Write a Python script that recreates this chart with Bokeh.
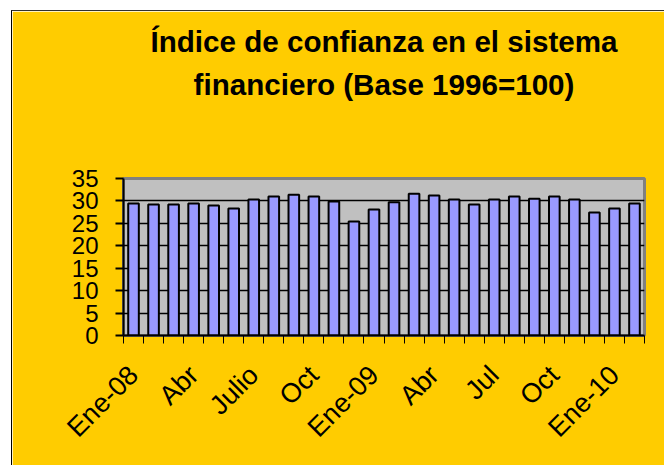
import math
from bokeh.plotting import figure
from bokeh.models import FixedTicker, Title, Range1d
from bokeh.embed import file_html
from bokeh.resources import INLINE

months = ["Ene-08", "Feb-08", "Mar-08", "Abr-08", "May-08", "Jun-08", "Jul-08", "Ago-08",
          "Sep-08", "Oct-08", "Nov-08", "Dic-08", "Ene-09", "Feb-09", "Mar-09", "Abr-09",
          "May-09", "Jun-09", "Jul-09", "Ago-09", "Sep-09", "Oct-09", "Nov-09", "Dic-09",
          "Ene-10", "Feb-10"]
values = [29.4, 29.2, 29.2, 29.4, 29.0, 28.3, 30.3, 31.0, 31.4, 31.0, 29.9, 25.4, 28.1,
          29.7, 31.6, 31.2, 30.3, 29.2, 30.3, 31.0, 30.5, 31.0, 30.3, 27.4, 28.3, 29.4]
label_positions = [0, 3, 6, 9, 12, 15, 18, 21, 24]
tick_labels = ["Ene-08", "Abr", "Julio", "Oct", "Ene-09", "Abr", "Jul", "Oct", "Ene-10"]
y_ticks = [0, 5, 10, 15, 20, 25, 30, 35]
grid_ticks = [5, 10, 15, 20, 25, 30]

title_line1 = "Índice de confianza en el sistema"
title_line2 = "financiero (Base 1996=100)"

YELLOW = "#FFCC00"
FONT = "Liberation Sans"

x = list(range(len(months)))

p = figure(width=653, height=455, output_backend="svg", toolbar_location=None,
           x_range=Range1d(-0.5, len(months) - 0.5), y_range=Range1d(0, 35),
           min_border_left=111, min_border_right=21, min_border_top=167,
           min_border_bottom=131)
p.margin = (10, 0, 0, 11)
p.styles = {"border-left": "1px solid black", "border-top": "1px solid #303030"}

p.background_fill_color = "#C0C0C0"
p.border_fill_color = YELLOW
p.outline_line_color = "#808080"
p.outline_line_width = 3

p.vbar(x=x, top=values, width=0.53, bottom=0, fill_color="#9999FF",
       line_color="black", line_width=2)

# titles (two centred lines)
t2 = Title(text=title_line2, align="center", vertical_align="top", text_font=FONT,
           text_font_size="29.6px", text_font_style="bold", text_color="black",
           standoff=-222, offset=3)
t1 = Title(text=title_line1, align="center", vertical_align="top", text_font=FONT,
           text_font_size="29.6px", text_font_style="bold", text_color="black",
           standoff=-308, offset=2)
p.add_layout(t2, "above")
p.add_layout(t1, "above")

# grid
p.xgrid.visible = False
p.ygrid.ticker = FixedTicker(ticks=grid_ticks)
p.ygrid.grid_line_color = "black"
p.ygrid.grid_line_width = 1.3

# y axis
p.yaxis.ticker = FixedTicker(ticks=y_ticks)
p.yaxis.axis_line_color = "black"
p.yaxis.axis_line_width = 2
p.yaxis.major_tick_out = 8
p.yaxis.major_tick_in = 0
p.yaxis.major_tick_line_width = 2
p.yaxis.minor_tick_line_color = None
p.yaxis.major_label_standoff = 17
p.yaxis.major_label_text_font = FONT
p.yaxis.major_label_text_font_size = "24px"
p.yaxis.major_label_text_color = "black"

# x axis
boundaries = [i - 0.5 for i in range(len(months) + 1)]
p.xaxis.ticker = FixedTicker(ticks=label_positions, minor_ticks=boundaries)
p.xaxis.major_label_overrides = {pos: lab for pos, lab in zip(label_positions, tick_labels)}
p.xaxis.major_tick_out = 0
p.xaxis.major_tick_in = 0
p.xaxis.minor_tick_out = 8
p.xaxis.minor_tick_in = 0
p.xaxis.minor_tick_line_width = 1
p.xaxis.minor_tick_line_color = "black"
p.xaxis.axis_line_color = "black"
p.xaxis.axis_line_width = 2
p.xaxis.major_label_orientation = math.pi / 4
p.xaxis.major_label_standoff = 27
p.xaxis.major_label_text_font = FONT
p.xaxis.major_label_text_font_size = "27px"
p.xaxis.major_label_text_color = "black"

open("out.html", "w").write(file_html(p, INLINE))
